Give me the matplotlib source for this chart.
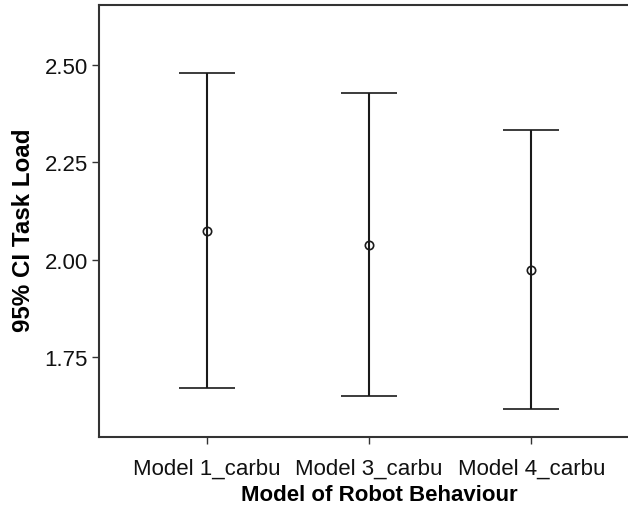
import matplotlib
matplotlib.use("Agg")
import matplotlib.pyplot as plt

categories = ["Model 1_carbu", "Model 3_carbu", "Model 4_carbu"]
means = [2.074, 2.039, 1.975]
lower = [1.671, 1.651, 1.618]
upper = [2.479, 2.428, 2.333]
yticks = [1.75, 2.00, 2.25, 2.50]

plt.rcParams['font.family'] = ['Liberation Sans', 'DejaVu Sans']

W, H = 628, 510
fig = plt.figure(figsize=(W/100, H/100), dpi=100)
ax_w_px = 560
ax = fig.add_axes([99/W, 72/H, ax_w_px/W, (438-6)/H])

x = list(range(len(categories)))
err_lo = [m - l for m, l in zip(means, lower)]
err_hi = [u - m for m, u in zip(means, upper)]
ax.errorbar(x, means, yerr=[err_lo, err_hi], fmt='o', color='#1a1a1a',
            ecolor='#1a1a1a', elinewidth=1.5, capsize=20, capthick=1.5,
            markersize=6, markerfacecolor='none', markeredgewidth=1.2)

x_left = -0.6636
ax.set_xlim(x_left, x_left + ax_w_px/162.3)
ax.set_ylim(1.5457, 2.653)
ax.set_yticks(yticks)
ax.set_yticklabels([f"{v:.2f}" for v in yticks])
ax.set_xticks(x)
ax.set_xticklabels(categories)
ax.tick_params(axis='both', direction='out', length=5, width=1, color='#333333',
               labelsize=16, labelcolor='#111111', pad=3)
ax.tick_params(axis='x', pad=10)
for s in ['left', 'bottom', 'top', 'right']:
    ax.spines[s].set_linewidth(1.5)
    ax.spines[s].set_color('#333333')

ax.set_xlabel("Model of Robot Behaviour", fontsize=16, fontweight='bold', labelpad=4)
fig.text(24/W, 1 - 230/H, "95% CI Task Load", fontsize=17.4, fontweight='bold',
         rotation=90, ha='center', va='center')

fig.savefig("out.png", dpi=100)
